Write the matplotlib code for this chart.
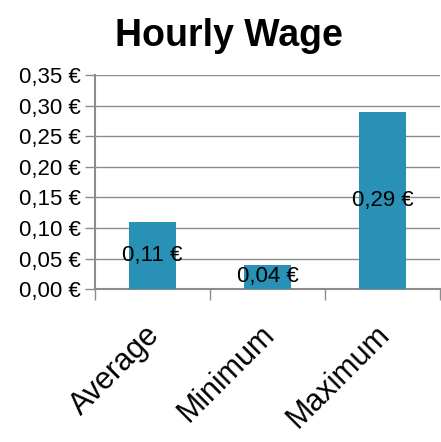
import matplotlib.pyplot as plt
import matplotlib.transforms as mtransforms
from matplotlib.ticker import FuncFormatter, MultipleLocator

categories = ['Average', 'Minimum', 'Maximum']
wages = [0.11, 0.04, 0.29]
value_labels = ['0,11 €', '0,04 €', '0,29 €']

plt.rcParams['font.family'] = ['Liberation Sans', 'DejaVu Sans']

fig = plt.figure(figsize=(4.41, 4.42), dpi=100)
ax = fig.add_axes([0.215, 0.346, 0.783, 0.484])

bar_color = '#2990b6'
grid_color = '#8c8c8c'

x = range(len(categories))
bars = ax.bar(x, wages, width=0.41, color=bar_color, zorder=3)

for b, lab in zip(bars, value_labels):
    ax.text(b.get_x() + b.get_width() / 2, b.get_height() / 2, lab,
            ha='center', va='center', fontsize=16, color='black', zorder=4)

ax.set_xlim(-0.5, len(categories) - 0.5)
ax.set_ylim(0, 0.35)
ax.yaxis.set_major_locator(MultipleLocator(0.05))
ax.yaxis.set_major_formatter(FuncFormatter(lambda v, p: f'{v:.2f} €'.replace('.', ',')))
ax.grid(axis='y', color=grid_color, linewidth=1, zorder=0)

ax.set_xticks([i - 0.5 for i in range(len(categories) + 1)], minor=False)
ax.set_xticklabels([])
ax.set_xticks(list(x), minor=True)
ax.set_xticklabels(categories, minor=True, rotation=45, ha='right',
                   rotation_mode='anchor', fontsize=22)
ax.tick_params(axis='x', which='minor', length=0, pad=14)
ax.tick_params(axis='x', which='major', length=8, color=grid_color, width=1)
ax.tick_params(axis='y', length=7, color=grid_color, width=1, labelsize=16, pad=3)

# nudge the rotated category labels a bit down/left
shift = mtransforms.ScaledTranslation(-8 / 100, -11 / 100, fig.dpi_scale_trans)
for t in ax.get_xticklabels(minor=True):
    t.set_transform(t.get_transform() + shift)

for s in ['top', 'right']:
    ax.spines[s].set_visible(False)
for s in ['left', 'bottom']:
    ax.spines[s].set_color(grid_color)
    ax.spines[s].set_linewidth(1.5)

fig.suptitle('Hourly Wage', fontsize=27, fontweight='bold', x=0.52, y=0.96)

fig.savefig('out.png', dpi=100)
